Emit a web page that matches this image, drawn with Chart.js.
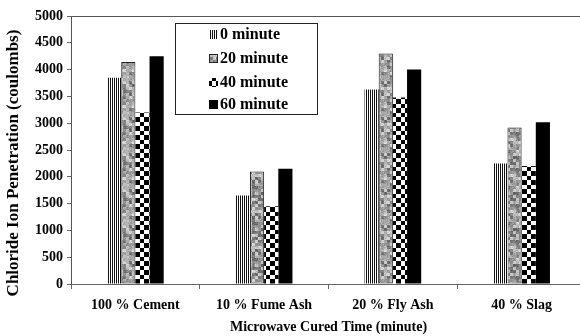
<!DOCTYPE html>
<html>
<head>
<meta charset="utf-8">
<script src="https://cdn.jsdelivr.net/npm/chart.js@4/dist/chart.umd.min.js"></script>
<style>
  html, body { margin: 0; padding: 0; background: #fff; overflow: hidden; }
  canvas { display: block; }
</style>
</head>
<body>
<canvas id="chart" width="586" height="336"></canvas>
<script>
// Data
const categories = ['100 % Cement', '10 % Fume Ash', '20 % Fly Ash', '40 % Slag'];
const seriesLabels = ['0 minute', '20 minute', '40 minute', '60 minute'];
const minute0 = [3850, 1650, 3630, 2250];
const minute20 = [4140, 2100, 4300, 2920];
const minute40 = [3200, 1450, 3480, 2200];
const minute60 = [4250, 2150, 4000, 3020];
const yMax = 5000;
const yStep = 500;
const yTitle = 'Chloride Ion Penetration (coulombs)';

const serif = '"Liberation Serif", "Times New Roman", serif';

// Fill patterns
function makePattern(w, h, draw) {
    const c = document.createElement('canvas');
    c.width = w;
    c.height = h;
    draw(c.getContext('2d'));
    return c.getContext('2d').createPattern(c, 'repeat');
}

const stripes = makePattern(2, 1, g => {
    g.fillStyle = '#fff';
    g.fillRect(0, 0, 2, 1);
    g.fillStyle = '#111';
    g.fillRect(0, 0, 1, 1);
});

function hash(x, y) {
    const v = Math.sin(x * 12.9898 + y * 78.233) * 43758.5453;
    return v - Math.floor(v);
}

const mottled = makePattern(36, 36, g => {
    for (let y = 0; y < 36; y++) {
        for (let x = 0; x < 36; x++) {
            // coarse + fine grain, fixed hash
            const coarse = hash(Math.floor(x / 3) % 12, Math.floor(y / 3) % 12);
            const fine = hash(x, y);
            const s = Math.round(85 + coarse * 110 + fine * 40);
            g.fillStyle = `rgb(${s},${s},${s})`;
            g.fillRect(x, y, 1, 1);
        }
    }
});

const checker = makePattern(9, 9, g => {
    g.fillStyle = '#fff';
    g.fillRect(0, 0, 9, 9);
    g.fillStyle = '#000';
    g.fillRect(0, 0, 5, 5);
    g.fillRect(5, 5, 4, 4);
});

const fills = [stripes, mottled, checker, '#000'];
const seriesData = [minute0, minute20, minute40, minute60];

const datasets = seriesLabels.map((label, i) => ({
    label: label,
    data: seriesData[i],
    backgroundColor: fills[i],
    borderColor: '#222',
    borderWidth: i === 1 ? 1 : 0,
    borderSkipped: false,
    categoryPercentage: 0.44,
    barPercentage: 1
}));

// Boxed legend inside the plot, plus the y title placed like the original
const boxLegend = {
    id: 'boxLegend',
    afterDraw(chart) {
        const ctx = chart.ctx;
        ctx.save();
        ctx.fillStyle = '#fff';
        ctx.fillRect(175, 23, 143, 92);
        ctx.strokeStyle = '#222';
        ctx.lineWidth = 1;
        ctx.strokeRect(175.5, 23.5, 142, 91);
        const rows = [34, 58, 82, 104];
        ctx.font = 'bold 16px ' + serif;
        ctx.textBaseline = 'middle';
        chart.data.datasets.forEach((ds, i) => {
            const y = rows[i];
            ctx.fillStyle = ds.backgroundColor;
            ctx.fillRect(209, y - 4, 9, 9);
            if (ds.borderWidth) {
                ctx.strokeStyle = '#222';
                ctx.strokeRect(209.5, y - 3.5, 8, 8);
            }
            ctx.fillStyle = '#000';
            ctx.fillText(ds.label, 220, y + 1);
        });

        ctx.translate(14, 163);
        ctx.rotate(-Math.PI / 2);
        ctx.font = 'bold 17px ' + serif;
        ctx.textAlign = 'center';
        ctx.fillText(yTitle, 0, 0);
        ctx.restore();
    }
};

new Chart(document.getElementById('chart'), {
    type: 'bar',
    data: {
        labels: categories,
        datasets: datasets
    },
    options: {
        responsive: false,
        animation: false,
        layout: {
            padding: { top: 16, left: 0, right: 0, bottom: 0 }
        },
        plugins: {
            legend: { display: false },
            tooltip: { enabled: false }
        },
        scales: {
            x: {
                afterFit: scale => { scale.height = 52; },
                grid: {
                    offset: true,
                    drawOnChartArea: false,
                    tickLength: 5,
                    tickColor: '#666'
                },
                border: { color: '#666', width: 1 },
                ticks: {
                    color: '#000',
                    padding: 8,
                    font: { family: serif, size: 14, weight: 'bold' }
                },
                title: {
                    display: true,
                    text: 'Microwave Cured Time (minute)',
                    color: '#000',
                    padding: { top: 0, bottom: 0 },
                    font: { family: serif, size: 14, weight: 'bold' }
                }
            },
            y: {
                min: 0,
                max: yMax,
                afterFit: scale => { scale.width = 71; },
                ticks: {
                    stepSize: yStep,
                    color: '#000',
                    padding: 4,
                    callback: v => String(v),
                    font: { family: serif, size: 14, weight: 'bold' }
                },
                grid: {
                    color: c => (c.tick && c.tick.value === yMax ? '#555' : 'rgba(0,0,0,0)'),
                    tickColor: '#666',
                    tickLength: 4
                },
                border: { color: '#555', width: 1 }
            }
        }
    },
    plugins: [boxLegend]
});
</script>
</body>
</html>
